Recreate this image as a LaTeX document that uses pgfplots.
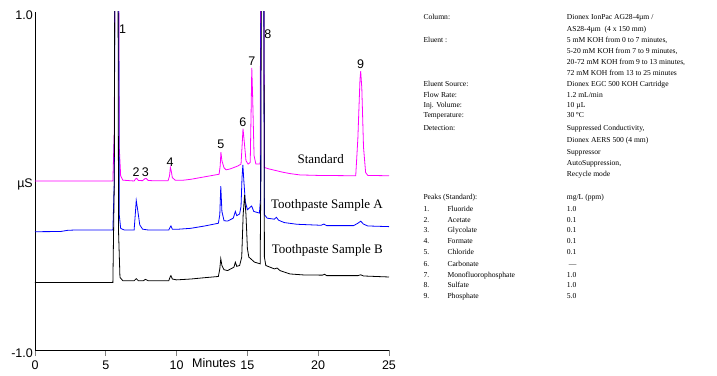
\documentclass[border=0pt]{standalone}
\usepackage{fontspec}
\setmainfont{Liberation Serif}
\setsansfont{Liberation Sans}
\usepackage{pgfplots}
\pgfplotsset{compat=1.18}
\definecolor{stdmag}{RGB}{255,0,255}
\definecolor{smpblue}{RGB}{0,0,255}
\newcommand{\tinyfont}{\fontsize{7.6}{9}\selectfont}
\newcommand{\row}[3]{%
  \node[anchor=base west,inner sep=0pt,font=\tinyfont] at (423.3,{375-(#1+2.8)}) {#2};%
  \node[anchor=base west,inner sep=0pt,font=\tinyfont] at (566.7,{375-(#1+2.8)}) {#3};}
\newcommand{\prow}[4]{%
  \node[anchor=base west,inner sep=0pt,font=\tinyfont] at (423.3,{375-(#1+2.8)}) {#2};%
  \node[anchor=base west,inner sep=0pt,font=\tinyfont] at (447.3,{375-(#1+2.8)}) {#3};%
  \node[anchor=base west,inner sep=0pt,font=\tinyfont] at (566.7,{375-(#1+2.8)}) {#4};}
\begin{document}
\begin{tikzpicture}[x=1pt,y=1pt]
\useasboundingbox (0,0) rectangle (717,375);
\begin{axis}[
  at={(35pt,25pt)}, anchor=south west,
  scale only axis, width=354pt, height=338pt,
  xmin=0, xmax=25, ymin=-1, ymax=1,
  axis x line*=bottom, axis y line*=left,
  axis line style={line width=0.9pt},
  xtick={0,5,10,15,20,25}, xticklabels={0,5,10,15,20,25},
  ytick={-1,0,1}, yticklabels={-1.0,µS,1.0},
  tick align=outside, major tick length=6pt,
  x tick style={line width=0.9pt},
  y tick style={draw=none},
  ticklabel style={font=\sffamily\fontsize{12.5}{14}\selectfont},
  xticklabel style={inner sep=1pt, yshift=-4pt},
  yticklabel style={inner sep=1pt, yshift=-3pt, xshift=5pt},
  every axis plot/.append style={line width=0.8pt},
]
% Standard
\addplot[stdmag] coordinates {
(0,0) (5.5,0) (5.6,0.3) (5.7,3) (5.85,3) (5.95,0.2) (6.05,0.03) (6.2,0.005) (7.0,0.0) (7.1,0.012) (7.18,0.016) (7.3,0.003) (7.6,0.002) (7.75,0.013) (7.85,0.015) (8.0,0.003) (8.5,0.001) (9.4,0.002) (9.5,0.03) (9.56,0.08) (9.62,0.06) (9.7,0.02) (9.9,0.005) (10.5,0.005) (11,0.01) (12,0.025) (13.0,0.04) (13.08,0.09) (13.13,0.17) (13.2,0.12) (13.35,0.078) (13.5,0.066) (13.8,0.072) (14.3,0.088) (14.55,0.1) (14.62,0.2) (14.69,0.31) (14.77,0.24) (14.9,0.12) (15.05,0.1) (15.2,0.11) (15.26,0.4) (15.31,0.67) (15.37,0.5) (15.47,0.15) (15.6,0.1) (15.9,0.1) (15.99,3) (16.09,3) (16.2,0.08) (16.5,0.072) (17,0.062) (17.5,0.052) (18,0.044) (18.7,0.036) (20,0.033) (22.65,0.031) (22.8,0.25) (22.95,0.6) (23.0,0.65) (23.08,0.55) (23.2,0.2) (23.35,0.05) (23.5,0.033) (25,0.031)
};
% Toothpaste A
\addplot[smpblue] coordinates {
(0,-0.30) (1.8,-0.299) (2.3,-0.292) (2.8,-0.29) (5.5,-0.29) (5.6,0) (5.7,3) (5.85,3) (5.95,-0.2) (6.05,-0.28) (6.3,-0.29) (7.0,-0.29) (7.08,-0.2) (7.15,-0.115) (7.25,-0.17) (7.4,-0.26) (7.6,-0.285) (8,-0.29) (9.45,-0.29) (9.55,-0.272) (9.6,-0.266) (9.7,-0.285) (10,-0.286) (11,-0.28) (12,-0.266) (12.95,-0.25) (13.05,-0.2) (13.12,-0.03) (13.2,-0.18) (13.35,-0.235) (13.6,-0.237) (14.0,-0.22) (14.15,-0.18) (14.25,-0.205) (14.45,-0.195) (14.55,-0.15) (14.62,0.02) (14.68,0.095) (14.75,0.0) (14.85,-0.12) (15.0,-0.17) (15.2,-0.155) (15.3,-0.148) (15.45,-0.18) (15.85,-0.19) (15.93,-0.1) (16.0,3) (16.1,3) (16.2,-0.2) (16.4,-0.22) (16.9,-0.226) (17.05,-0.215) (17.2,-0.232) (17.6,-0.246) (18.5,-0.256) (20.2,-0.262) (20.4,-0.255) (20.6,-0.264) (22.5,-0.264) (22.8,-0.25) (23.0,-0.238) (23.2,-0.255) (23.5,-0.266) (25,-0.27)
};
% Toothpaste B
\addplot[black] coordinates {
(0,-0.60) (5.5,-0.60) (5.6,0) (5.68,3) (5.82,3) (5.9,-0.3) (6.0,-0.57) (6.2,-0.59) (7.0,-0.59) (7.15,-0.578) (7.3,-0.59) (7.65,-0.59) (7.8,-0.582) (8.0,-0.59) (9.45,-0.59) (9.55,-0.566) (9.6,-0.56) (9.7,-0.58) (10,-0.585) (11,-0.58) (12,-0.572) (12.95,-0.565) (13.05,-0.52) (13.12,-0.46) (13.2,-0.5) (13.35,-0.525) (13.6,-0.53) (14.05,-0.51) (14.15,-0.48) (14.25,-0.505) (14.45,-0.5) (14.6,-0.45) (14.7,-0.2) (14.8,-0.083) (14.9,-0.2) (15.0,-0.4) (15.1,-0.45) (15.5,-0.48) (15.9,-0.49) (15.95,0) (16.03,3) (16.13,3) (16.2,-0.45) (16.3,-0.5) (16.9,-0.52) (17.1,-0.515) (17.3,-0.53) (18,-0.55) (19,-0.556) (20.3,-0.557) (20.45,-0.552) (20.6,-0.56) (22.8,-0.56) (23.0,-0.555) (23.2,-0.562) (25,-0.568)
};
\begin{scope}[every node/.style={font=\sffamily\fontsize{12.5}{14}\selectfont, inner sep=0pt}]
\node at (axis cs:6.18,0.9) {1};
\node at (axis cs:7.14,0.052) {2};
\node at (axis cs:7.8,0.052) {3};
\node at (axis cs:9.54,0.112) {4};
\node at (axis cs:13.12,0.217) {5};
\node at (axis cs:14.68,0.346) {6};
\node at (axis cs:15.31,0.706) {7};
\node at (axis cs:16.44,0.87) {8};
\node at (axis cs:23.0,0.69) {9};
\end{scope}
\end{axis}
\node[font=\sffamily\fontsize{12.5}{14}\selectfont, inner sep=0pt] at (214,11.5) {Minutes};
\begin{scope}[every node/.style={font=\fontsize{13}{15}\selectfont, inner sep=0pt}]
\node at (320.7,{375-158.7}) {Standard};
\node at (327,{375-205.7}) {Toothpaste Sample A};
\node at (327.3,{375-250}) {Toothpaste Sample B};
\end{scope}
\row{17}{Column:}{Dionex IonPac AG28-4µm /}
\row{28.5}{}{AS28-4µm\ \ (4 x 150 mm)}
\row{40}{Eluent :}{5 mM KOH from 0 to 7 minutes,}
\row{50.7}{}{5-20 mM KOH from 7 to 9 minutes,}
\row{61.7}{}{20-72 mM KOH from 9 to 13 minutes,}
\row{72.7}{}{72 mM KOH from 13 to 25 minutes}
\row{83.5}{Eluent Source:}{Dionex EGC 500 KOH Cartridge}
\row{94.5}{Flow Rate:}{1.2 mL/min}
\row{105}{Inj. Volume:}{10 µL}
\row{115}{Temperature:}{30\,°C}
\row{128}{Detection:}{Suppressed Conductivity,}
\row{140}{}{Dionex AERS 500 (4 mm)}
\row{152}{}{Suppressor}
\row{163}{}{AutoSuppression,}
\row{173.5}{}{Recycle mode}
\row{196.5}{Peaks (Standard):}{mg/L (ppm)}
\prow{208.3}{1.}{Fluoride}{1.0}
\prow{219.3}{2.}{Acetate}{0.1}
\prow{229.5}{3.}{Glycolate}{0.1}
\prow{241}{4.}{Formate}{0.1}
\prow{251.7}{5.}{Chloride}{0.1}
\prow{263.5}{6.}{Carbonate}{\ —}
\prow{275}{7.}{Monofluorophosphate}{1.0}
\prow{285}{8.}{Sulfate}{1.0}
\prow{295.7}{9.}{Phosphate}{5.0}
\end{tikzpicture}
\end{document}
